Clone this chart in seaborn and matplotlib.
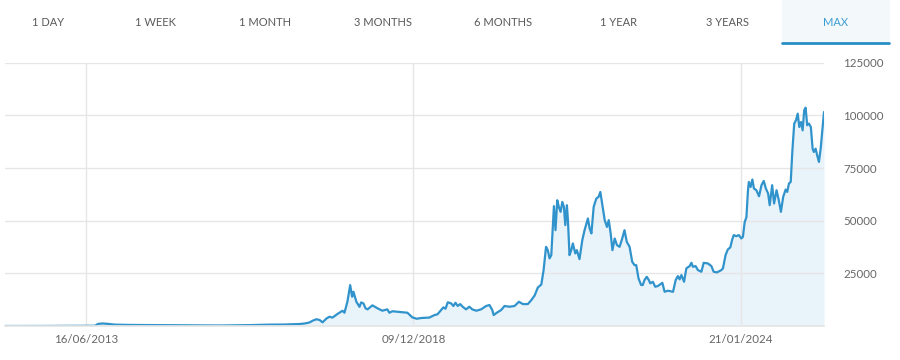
import numpy as np
import pandas as pd
import matplotlib
matplotlib.use("Agg")
import matplotlib.pyplot as plt
import matplotlib.dates as mdates
from matplotlib.patches import Rectangle
from matplotlib.lines import Line2D
import seaborn as sns

# ---------- data ----------
tabs = ["1 DAY", "1 WEEK", "1 MONTH", "3 MONTHS", "6 MONTHS", "1 YEAR", "3 YEARS", "MAX"]
active_tab = "MAX"
tick_dates = ["2013-06-16", "2018-12-09", "2024-01-21"]
tick_labels = ["16/06/2013", "09/12/2018", "21/01/2024"]
y_ticks = [25000, 50000, 75000, 100000, 125000]

dates = [
    "2012-02-06", "2012-09-08", "2013-06-16", "2013-08-10", "2013-08-28", "2013-09-27", "2013-10-28", "2013-12-10",
    "2014-03-11", "2014-09-10", "2015-03-12", "2015-09-11", "2016-03-13", "2016-07-13", "2016-10-12", "2017-01-12",
    "2017-02-12", "2017-03-14", "2017-04-01", "2017-04-24", "2017-05-14", "2017-06-01", "2017-06-25", "2017-07-13",
    "2017-08-01", "2017-08-31", "2017-10-01", "2017-10-13", "2017-10-31", "2017-11-17", "2017-11-29", "2017-12-07",
    "2017-12-25", "2018-01-13", "2018-01-23", "2018-02-06", "2018-02-19", "2018-03-03", "2018-04-02", "2018-05-03",
    "2018-06-02", "2018-07-02", "2018-07-15", "2018-08-02", "2018-09-14", "2018-11-02", "2018-12-02", "2018-12-27",
    "2019-01-23", "2019-03-10", "2019-04-08", "2019-04-25", "2019-05-16", "2019-05-29", "2019-06-10", "2019-06-23",
    "2019-07-12", "2019-07-25", "2019-08-06", "2019-08-19", "2019-09-02", "2019-09-16", "2019-10-05", "2019-10-24",
    "2019-11-10", "2019-12-03", "2019-12-30", "2020-01-28", "2020-02-16", "2020-03-03", "2020-03-11", "2020-03-29",
    "2020-04-23", "2020-05-12", "2020-06-10", "2020-07-08", "2020-08-02", "2020-08-25", "2020-09-22", "2020-10-12",
    "2020-10-31", "2020-11-18", "2020-12-08", "2020-12-21", "2021-01-04", "2021-01-14", "2021-01-24", "2021-02-03",
    "2021-02-12", "2021-02-18", "2021-02-27", "2021-03-09", "2021-03-18", "2021-03-28", "2021-04-07", "2021-04-16",
    "2021-04-24", "2021-05-03", "2021-05-09", "2021-05-18", "2021-05-28", "2021-06-06", "2021-06-20", "2021-06-29",
    "2021-07-14", "2021-07-30", "2021-08-12", "2021-08-31", "2021-09-10", "2021-09-20", "2021-10-03", "2021-10-18",
    "2021-10-31", "2021-11-10", "2021-11-22", "2021-12-05", "2021-12-18", "2021-12-28", "2022-01-08", "2022-01-18",
    "2022-01-31", "2022-02-13", "2022-02-28", "2022-03-15", "2022-03-28", "2022-04-10", "2022-04-26", "2022-05-11",
    "2022-05-24", "2022-06-03", "2022-06-16", "2022-07-01", "2022-07-10", "2022-07-20", "2022-08-02", "2022-08-14",
    "2022-08-22", "2022-09-06", "2022-09-19", "2022-10-04", "2022-10-30", "2022-11-12", "2022-12-01", "2022-12-30",
    "2023-01-14", "2023-01-27", "2023-02-06", "2023-02-16", "2023-03-03", "2023-03-16", "2023-04-04", "2023-04-14",
    "2023-04-23", "2023-05-08", "2023-05-21", "2023-06-10", "2023-06-23", "2023-07-17", "2023-08-06", "2023-08-19",
    "2023-09-07", "2023-10-02", "2023-10-11", "2023-10-26", "2023-11-08", "2023-11-22", "2023-12-03", "2023-12-12",
    "2023-12-26", "2024-01-10", "2024-01-24", "2024-02-02", "2024-02-12", "2024-02-22", "2024-03-02", "2024-03-07",
    "2024-03-17", "2024-03-27", "2024-04-05", "2024-04-19", "2024-05-04", "2024-05-18", "2024-05-31", "2024-06-12",
    "2024-06-25", "2024-07-04", "2024-07-18", "2024-07-29", "2024-08-12", "2024-08-25", "2024-09-06", "2024-09-19",
    "2024-10-03", "2024-10-12", "2024-10-22", "2024-11-01", "2024-11-10", "2024-11-21", "2024-12-01", "2024-12-11",
    "2024-12-20", "2024-12-30", "2025-01-08", "2025-01-17", "2025-01-25", "2025-02-03", "2025-02-13", "2025-02-24",
    "2025-03-06", "2025-03-13", "2025-03-23", "2025-04-01", "2025-04-11", "2025-04-21", "2025-04-27", "2025-05-02",
    "2025-05-10",
]

prices = [
    5, 12, 100, 120, 1000, 1200, 1000, 650,
    500, 400, 260, 240, 420, 650, 700, 950,
    1200, 1700, 2500, 3200, 2850, 1750, 3550, 4400,
    4000, 5700, 7250, 6300, 11500, 19400, 13900, 16250,
    11500, 9100, 11200, 10750, 8400, 7900, 9800, 8400,
    7250, 7900, 6300, 7000, 6650, 6300, 4100, 3450,
    3800, 4000, 5200, 5550, 7600, 8850, 8200, 11250,
    10750, 9500, 11050, 9500, 10400, 9150, 7900, 9150,
    7900, 7250, 7900, 9500, 9950, 7600, 5200, 6300,
    7600, 9500, 9150, 9500, 11500, 10400, 10400, 12300,
    14500, 18250, 19700, 26500, 37600, 36000, 32100, 33650,
    47050, 56900, 45500, 59700, 56550, 54200, 58900, 56550,
    47900, 57350, 50250, 33650, 36000, 39200, 34450, 36000,
    31750, 40750, 45500, 51050, 46300, 43950, 56550, 60500,
    61300, 63650, 57350, 50250, 47050, 50250, 43950, 36000,
    41550, 38400, 37600, 41550, 45500, 39950, 37600, 30500,
    28900, 28900, 22600, 19450, 19450, 21800, 23350, 21800,
    20250, 21000, 18650, 18950, 20500, 16250, 16750, 16250,
    21800, 23700, 22150, 24200, 21000, 27350, 28450, 30000,
    28100, 28450, 26550, 25750, 30000, 29700, 28450, 25750,
    25450, 26550, 27350, 33650, 36350, 37300, 41100, 43150,
    42650, 43150, 41550, 42300, 49300, 51650, 64450, 68400,
    66000, 69550, 65300, 64450, 61600, 66850, 68850, 65300,
    62900, 57350, 66850, 58150, 64450, 59700, 54200, 61300,
    64800, 63650, 67650, 68400, 82600, 96100, 97650, 100800,
    94450, 96850, 92900, 102400, 103650, 95300, 96100, 94450,
    84200, 82600, 84200, 81050, 77900, 84200, 89700, 94450,
    101600,
]

LINE = "#3193cc"
FILL = "#e9f3fa"
GRID = "#e6e6e6"
TXT = "#666666"

sns.set_theme(style="white")
plt.rcParams["font.family"] = ["Lato", "DejaVu Sans"]

df = pd.DataFrame({"date": pd.to_datetime(dates), "price": prices})

fig = plt.figure(figsize=(9, 3.6), dpi=100)
ax = fig.add_axes([5 / 900, 34 / 360, 819 / 900, 263.3 / 360])

sns.lineplot(data=df, x="date", y="price", ax=ax, color=LINE, linewidth=1.6, estimator=None)
ax.fill_between(df["date"], df["price"], 0, color=FILL, zorder=0, linewidth=0)

# the date labels sit evenly spaced, so stretch time piecewise between them
t0, t1, t2 = mdates.date2num(pd.to_datetime(tick_dates))

def fwd(d):
    d = np.asarray(d, float)
    return np.where(d <= t1, (d - t0) / (t1 - t0), 1 + (d - t1) / (t2 - t1))

def inv(p):
    p = np.asarray(p, float)
    return np.where(p <= 1, t0 + p * (t1 - t0), t1 + (p - 1) * (t2 - t1))

ax.set_xscale("function", functions=(fwd, inv))
ax.set_xlim(mdates.date2num(df["date"].min()), mdates.date2num(df["date"].max()))
ax.set_xticks([t0, t1, t2], labels=tick_labels)
ax.set_ylim(0, 125000)
ax.set_yticks(y_ticks)
ax.yaxis.tick_right()
ax.set_xlabel("")
ax.set_ylabel("")

ax.grid(True, color=GRID, linewidth=1)
ax.set_axisbelow(True)
for s in ["left", "right", "top"]:
    ax.spines[s].set_visible(False)
ax.spines["bottom"].set_color(GRID)
ax.tick_params(axis="y", length=0, pad=14, labelsize=8.3, labelcolor=TXT)
ax.tick_params(axis="x", length=0, pad=6, labelsize=8.3, labelcolor=TXT)

# ---------- tab bar ----------
tab_x = [48, 155, 265, 383, 503, 618, 727, 836]
fig.add_artist(Rectangle((782 / 900, 1 - 43 / 360), 107 / 900, 43 / 360,
                         transform=fig.transFigure, color="#f3f8fb", zorder=0))
fig.add_artist(Line2D([782 / 900, 889 / 900], [1 - 43 / 360] * 2,
                      transform=fig.transFigure, color="#2a8fc6", linewidth=2))
for t, x in zip(tabs, tab_x):
    fig.text(x / 900, 1 - 23 / 360, t, ha="center", va="center", fontsize=8,
             color="#3d9ed2" if t == active_tab else "#5a5a5a")

fig.savefig("out.png", dpi=100)
